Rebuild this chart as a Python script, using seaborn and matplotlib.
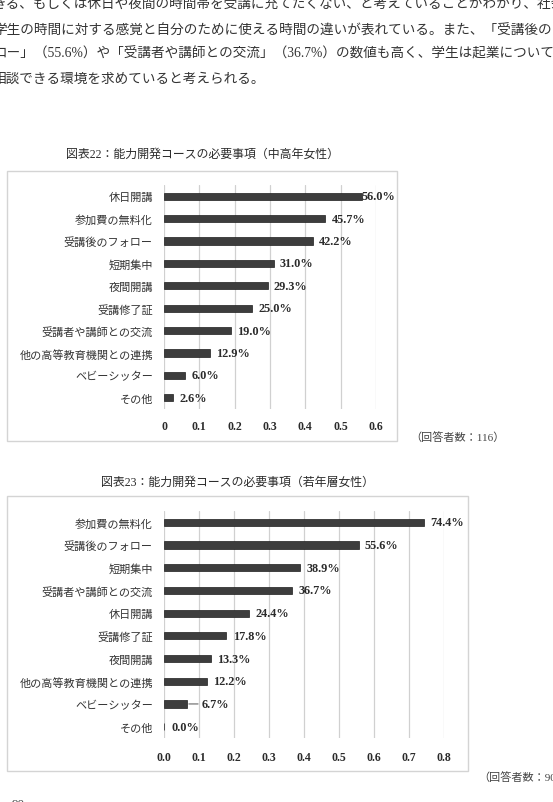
import matplotlib
matplotlib.use('Agg')
import matplotlib.pyplot as plt
from matplotlib.patches import Rectangle
import pandas as pd
import seaborn as sns

# chart 22 (中高年女性)
cats1 = ['休日開講', '参加費の無料化', '受講後のフォロー', '短期集中', '夜間開講', '受講修了証',
         '受講者や講師との交流', '他の高等教育機関との連携', 'ベビーシッター', 'その他']
vals1 = [56.0, 45.7, 42.2, 31.0, 29.3, 25.0, 19.0, 12.9, 6.0, 2.6]
ticks1 = [0, 0.1, 0.2, 0.3, 0.4, 0.5, 0.6]

# chart 23 (若年層女性)
cats2 = ['参加費の無料化', '受講後のフォロー', '短期集中', '受講者や講師との交流', '休日開講', '受講修了証',
         '夜間開講', '他の高等教育機関との連携', 'ベビーシッター', 'その他']
vals2 = [74.4, 55.6, 38.9, 36.7, 24.4, 17.8, 13.3, 12.2, 6.7, 0.0]
ticks2 = [0.0, 0.1, 0.2, 0.3, 0.4, 0.5, 0.6, 0.7, 0.8]

title1 = '図表22：能力開発コースの必要事項（中高年女性）'
title2 = '図表23：能力開発コースの必要事項（若年層女性）'
note1 = '（回答者数：116）'
note2 = '（回答者数：90）'

body = [
    'きる、もしくは休日や夜間の時間帯を受講に充てたくない、と考えていることがわかり、社会人と',
    '学生の時間に対する感覚と自分のために使える時間の違いが表れている。また、「受講後のフォ',
    'ロー」（55.6%）や「受講者や講師との交流」（36.7%）の数値も高く、学生は起業について',
    '相談できる環境を求めていると考えられる。',
]

W, H = 553, 803
sns.set_theme(style='white')
plt.rcParams['font.family'] = ['Liberation Serif', 'Noto Sans CJK JP']

fig = plt.figure(figsize=(W / 100, H / 100), dpi=100)
fig.patch.set_facecolor('white')

TXT = '#2b2b2b'
BAR = '#3d3d3d'


def fx(px):
    return px / W


def fy(py):
    return 1 - py / H


# body text on top of the page (cut at the page edges like the scan)
for (x0, y0), line in zip([(-7.5, 5), (-6.5, 31), (-6.5, 54), (-7, 79)], body):
    fig.text(fx(x0), fy(y0), line, fontsize=9.8, color='#333333', va='center', ha='left')


def draw_chart(cats, vals, ticks, box, plot, title, title_xy, note, note_xy, fmt, offsets,
               xpad=8, leader=None):
    x0, y0, x1, y1 = box
    fig.patches.append(Rectangle((fx(x0), fy(y1)), fx(x1 - x0), (y1 - y0) / H,
                                 transform=fig.transFigure, fill=False,
                                 edgecolor='#d4d4d4', linewidth=1.0))
    fig.text(fx(title_xy[0]), fy(title_xy[1]), title, fontsize=8.6, color=TXT, ha='center', va='center')
    fig.text(fx(note_xy[0]), fy(note_xy[1]), note, fontsize=8, color='#444444', ha='left', va='center')

    px0, py0, px1, py1 = plot
    ax = fig.add_axes([fx(px0), fy(py1), fx(px1 - px0), (py1 - py0) / H])
    df = pd.DataFrame({'item': cats, 'rate': [v / 100 for v in vals]})
    sns.barplot(data=df, x='rate', y='item', orient='h', color=BAR, width=0.32,
                edgecolor='#1e1e1e', linewidth=0.5, saturation=1, ax=ax)
    ax.set_xlim(ticks[0], ticks[-1])
    ax.set_ylim(len(cats) - 0.5, -0.5)
    ax.set_xticks(ticks)
    ax.set_xticklabels([fmt.format(t) for t in ticks], fontsize=8.5, color=TXT, fontweight='bold')
    ax.set_yticks(range(len(cats)))
    ax.set_yticklabels(cats, fontsize=8, color='#333333')
    ax.set_xlabel('')
    ax.set_ylabel('')
    ax.tick_params(axis='both', length=0)
    ax.tick_params(axis='x', pad=xpad)
    ax.tick_params(axis='y', pad=8)
    ax.grid(axis='x', color='#d0d0d0', linewidth=0.9)
    ax.grid(axis='y', visible=False)
    ax.set_axisbelow(True)
    for s in ax.spines.values():
        s.set_visible(False)
    for i, v in enumerate(vals):
        off = offsets.get(i, 4.5)
        if leader is not None and i == leader:
            ax.annotate(f'{v:.1f}%', xy=(v / 100, i), xytext=(10, 0), textcoords='offset points',
                        va='center', ha='left', fontsize=8.8, fontweight='bold', color=TXT,
                        arrowprops=dict(arrowstyle='-', color='#666666', lw=0.8,
                                        shrinkA=0, shrinkB=1), annotation_clip=False)
        else:
            ax.annotate(f'{v:.1f}%', xy=(v / 100, i), xytext=(off, 0), textcoords='offset points',
                        va='center', ha='left', fontsize=8.8, fontweight='bold', color=TXT,
                        annotation_clip=False)
    return ax


draw_chart(cats1, vals1, ticks1, box=(7, 172, 397, 442), plot=(164, 186, 376, 410),
           title=title1, title_xy=(202, 155), note=note1, note_xy=(410, 437),
           fmt='{:g}', offsets={0: 0}, xpad=8)

draw_chart(cats2, vals2, ticks2, box=(7, 497, 468, 772), plot=(164, 512, 444, 739),
           title=title2, title_xy=(237, 483), note=note2, note_xy=(478, 777),
           fmt='{:.1f}', offsets={9: 5.5}, xpad=9.5, leader=8)

# page number, cut at the bottom edge
fig.text(fx(12), fy(805), '90', fontsize=9.5, color='#444444', ha='left', va='center')

fig.savefig('out.png', dpi=100)
